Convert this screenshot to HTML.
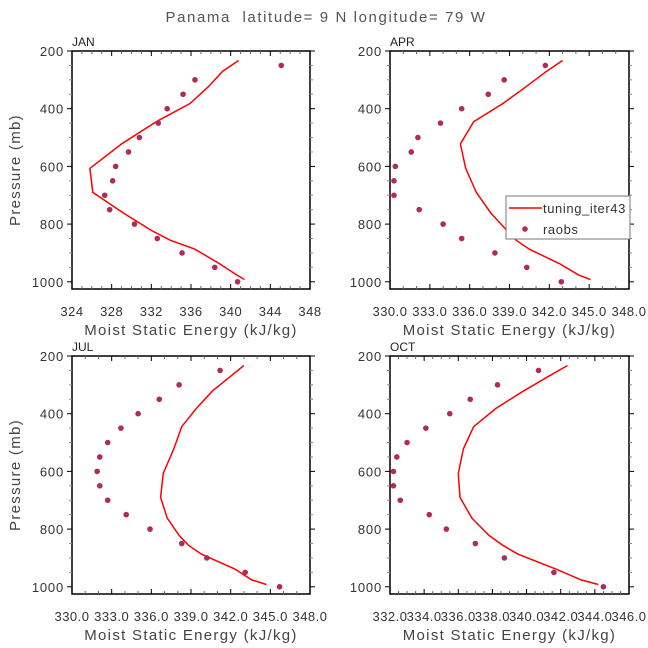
<!DOCTYPE html>
<html><head><meta charset="utf-8"><style>
html,body{margin:0;padding:0;background:#fff;}
svg{display:block;font-family:"Liberation Sans",sans-serif;}
</style></head><body>
<svg id="chart" width="648" height="648" viewBox="0 0 648 648">
<text x="326" y="22" text-anchor="middle" font-size="15" fill="#555" letter-spacing="1.6" xml:space="preserve">Panama  latitude= 9 N longitude= 79 W</text>
</svg>
<script>
const modelLevels=[233,270,322,382,445,522,607,690,762,822,856,887,938,976,992];
const obsLevels=[250,300,350,400,450,500,550,600,650,700,750,800,850,900,950,1000];
const janModel=[340.8,339.2,337.8,335.9,332.5,329.0,325.8,326.1,329.2,332.0,333.9,336.4,338.9,340.6,341.4];
const janObs=[345.1,336.4,335.2,333.6,332.7,330.8,329.7,328.4,328.1,327.3,327.8,330.3,332.6,335.1,338.4,340.7];
const aprModel=[343.0,341.8,340.3,338.5,336.3,335.3,335.7,336.5,337.6,338.8,339.5,340.5,342.8,344.2,345.1];
const aprObs=[341.7,338.6,337.4,335.4,333.8,332.1,331.6,330.4,330.3,330.3,332.2,334.0,335.4,337.9,340.3,342.9];
const julModel=[343.0,342.0,340.6,339.4,338.3,337.7,336.9,336.7,337.2,338.1,338.8,339.8,342.3,343.6,344.7];
const julObs=[341.2,338.1,336.6,335.0,333.7,332.7,332.1,331.9,332.1,332.7,334.1,335.9,338.3,340.2,343.1,345.7];
const octModel=[342.4,341.3,339.8,338.2,336.9,336.3,336.0,336.1,336.8,337.8,338.6,339.5,341.7,343.2,344.2];
const octObs=[340.7,338.3,336.7,335.5,334.1,333.0,332.4,332.2,332.2,332.6,334.3,335.3,337.0,338.7,341.6,344.5];
const yTicks=[200,400,600,800,1000];
const janXTicks=[324,328,332,336,340,344,348];
const aprXTicks=[330,333,336,339,342,345,348];
const octXTicks=[332,334,336,338,340,342,344,346];

const NS="http://www.w3.org/2000/svg";
const svg=document.getElementById('chart');
function mk(tag,attrs,parent){const e=document.createElementNS(NS,tag);for(const k in attrs)e.setAttribute(k,attrs[k]);(parent||svg).appendChild(e);return e;}

const panels=[
 {name:'jan',label:'JAN',left:72,right:310,top:51,bot:289,xmin:324,xmax:348,ticks:janXTicks,dec:0,minor:1,model:janModel,obs:janObs,ylab:true},
 {name:'apr',label:'APR',left:390,right:629,top:51,bot:289,xmin:330,xmax:348,ticks:aprXTicks,dec:1,minor:1,model:aprModel,obs:aprObs,ylab:false,legend:true},
 {name:'jul',label:'JUL',left:72,right:310,top:356,bot:594,xmin:330,xmax:348,ticks:aprXTicks,dec:1,minor:1,model:julModel,obs:julObs,ylab:true},
 {name:'oct',label:'OCT',left:390,right:629,top:356,bot:594,xmin:332,xmax:346,ticks:octXTicks,dec:1,minor:0.5,model:octModel,obs:octObs,ylab:false}
];
const PMIN=200,PMAX=1025;
panels.forEach(p=>{
 const g=mk('g',{});
 
 
 const xs=v=>p.left+(v-p.xmin)/(p.xmax-p.xmin)*(p.right-p.left);
 const ys=v=>p.top+(v-PMIN)/(PMAX-PMIN)*(p.bot-p.top);
 const fr=mk('rect',{x:p.left,y:p.top,width:p.right-p.left,height:p.bot-p.top,fill:'none',stroke:'#000','stroke-width':1.5},g);
 
 
 for(let v=200;v<=1000;v+=50){
   const maj=v%200===0, L=maj?5:3, y=ys(v);
   mk('line',{x1:p.left-L,y1:y,x2:p.left,y2:y,stroke:maj?'#000':'#888','stroke-width':1},g);
   mk('line',{x1:p.right,y1:y,x2:p.right+L,y2:y,stroke:maj?'#000':'#888','stroke-width':1},g);
 }
 yTicks.forEach(v=>{
   const t=mk('text',{x:p.left-8,y:ys(v)+5,'text-anchor':'end','font-size':13,fill:'#333','letter-spacing':0.8},g);
   t.textContent=v;
   
   
 });
 for(let v=p.xmin;v<=p.xmax+1e-6;v+=p.minor){
   const maj=p.ticks.some(t=>Math.abs(t-v)<1e-6), L=maj?5:3, x=xs(v);
   mk('line',{x1:x,y1:p.bot-L,x2:x,y2:p.bot,stroke:maj?'#000':'#666','stroke-width':1},g);
   mk('line',{x1:x,y1:p.top,x2:x,y2:p.top+L,stroke:maj?'#000':'#666','stroke-width':1},g);
 }
 p.ticks.forEach(v=>{
   const t=mk('text',{x:xs(v),y:p.bot+27,'text-anchor':'middle','font-size':13,fill:'#333','letter-spacing':0.5},g);
   t.textContent=v.toFixed(p.dec);
   
   
 });
 const xt=mk('text',{x:(p.left+p.right)/2,y:p.bot+46,'text-anchor':'middle','font-size':15,fill:'#444','letter-spacing':1.3},g);
 xt.textContent='Moist Static Energy (kJ/kg)';
 
 
 if(p.ylab){
   const cy=(p.top+p.bot)/2;
   const yt=mk('text',{x:20,y:cy,'text-anchor':'middle','font-size':15,fill:'#444','letter-spacing':1.3,transform:'rotate(-90 20 '+cy+')'},g);
   yt.textContent='Pressure (mb)';
   
   
 }
 const pl=mk('text',{x:p.left,y:p.top-5,'font-size':12,fill:'#222'},g);
 pl.textContent=p.label;
 
 
 const pts=p.model.map((v,i)=>xs(v).toFixed(1)+','+ys(modelLevels[i]).toFixed(1)).join(' ');
 const line=mk('polyline',{points:pts,fill:'none',stroke:'#ff0000','stroke-width':1.5},g);
 
 
 p.obs.forEach((v,i)=>{
   const c=mk('circle',{cx:xs(v),cy:ys(obsLevels[i]),r:2.8,fill:'#b02a5a'},g);
   
   
 });
 if(p.legend){
   const lg=mk('g',{},g);
   
   
   mk('rect',{x:506,y:196,width:124,height:43,fill:'#fff',stroke:'#777','stroke-width':1},lg);
   mk('line',{x1:509,y1:208,x2:542,y2:208,stroke:'#ff0000','stroke-width':1.5},lg);
   const t1=mk('text',{x:543,y:213,'font-size':13,fill:'#333','letter-spacing':0.6},lg);
   t1.textContent='tuning_iter43';
   
   
   mk('circle',{cx:525,cy:229,r:2.8,fill:'#b02a5a'},lg);
   const t2=mk('text',{x:543,y:234,'font-size':13,fill:'#333','letter-spacing':0.6},lg);
   t2.textContent='raobs';
   
   
 }
});
</script>
</body></html>
